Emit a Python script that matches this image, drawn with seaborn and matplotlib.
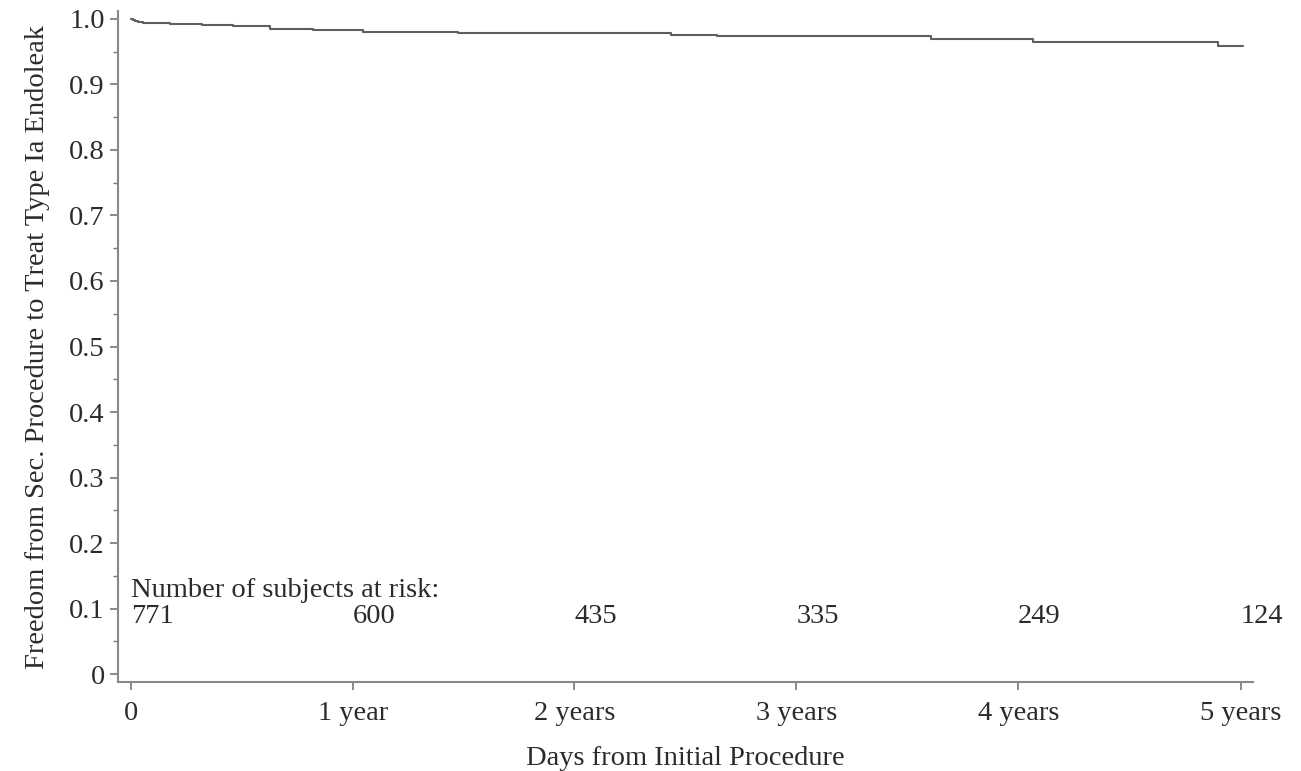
import matplotlib
matplotlib.use("Agg")
import matplotlib.pyplot as plt
import seaborn as sns
import pandas as pd
from matplotlib.ticker import MultipleLocator

# Kaplan-Meier steps (days, survival after the step)
days = [0, 3, 7, 12, 20, 64, 118, 168, 229, 299, 382, 508, 538, 889, 964, 1317, 1484, 1788, 1829]
surv = [1.0, 0.9985, 0.997, 0.9952, 0.9934, 0.9924, 0.9908, 0.9893, 0.9852, 0.9837,
        0.9806, 0.9797, 0.9782, 0.9756, 0.9736, 0.9690, 0.9649, 0.9592, 0.9592]

risk_days = [0, 365, 730, 1095, 1460, 1826]
at_risk = [771, 600, 435, 335, 249, 124]
tick_labels = ["0", "1 year", "2 years", "3 years", "4 years", "5 years"]
y_ticks = [0, 0.1, 0.2, 0.3, 0.4, 0.5, 0.6, 0.7, 0.8, 0.9, 1.0]
y_labels = ["0", "0.1", "0.2", "0.3", "0.4", "0.5", "0.6", "0.7", "0.8", "0.9", "1.0"]

sns.set_style("ticks")
plt.rcParams['font.family'] = ['Liberation Serif', 'DejaVu Serif']

df = pd.DataFrame({"day": days, "surv": surv})

fig = plt.figure(figsize=(13.01, 7.71), dpi=100)
ax = fig.add_axes([0.0907, 0.1154, 0.8723, 0.8703])

sns.lineplot(data=df, x="day", y="surv", ax=ax, estimator=None,
             drawstyle="steps-post", color="#5e5e5e", linewidth=1.5)

txt_color = "#2b2b2b"
fs = 20.5
ax.text(0, 0.128, "Number of subjects at risk:", fontsize=fs, color=txt_color,
        ha="left", va="center")
for d, n in zip(risk_days, at_risk):
    ax.text(d, 0.088, str(n), fontsize=fs, color=txt_color, ha="left", va="center",
            clip_on=False)

ax.set_xlim(-21, 1846)
ax.set_ylim(-0.012, 1.012)
ax.set_xticks(risk_days)
ax.set_xticklabels(tick_labels)
ax.set_yticks(y_ticks)
ax.set_yticklabels(y_labels)
ax.yaxis.set_minor_locator(MultipleLocator(0.05))

ax.tick_params(axis="both", which="major", labelsize=fs, labelcolor=txt_color,
               color="#777777", length=6, width=1.2, direction="out")
ax.tick_params(axis="x", which="major", pad=8)
ax.tick_params(axis="y", which="minor", color="#777777", length=3.5, width=1.0)

for s in ["top", "right"]:
    ax.spines[s].set_visible(False)
for s in ["left", "bottom"]:
    ax.spines[s].set_color("#888888")
    ax.spines[s].set_linewidth(1.5)

ax.set_xlabel("Days from Initial Procedure", fontsize=fs, color=txt_color, labelpad=14)
ax.set_ylabel("Freedom from Sec. Procedure to Treat Type Ia Endoleak", fontsize=fs,
              color=txt_color, labelpad=14)

fig.savefig("out.png", dpi=100)
